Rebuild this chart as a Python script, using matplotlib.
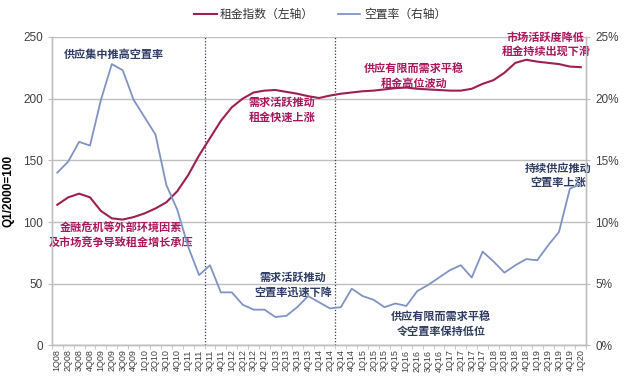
import matplotlib
matplotlib.use('Agg')
import matplotlib.pyplot as plt

plt.rcParams['font.family'] = ['Liberation Sans', 'Noto Sans CJK SC']

quarters = []
for yr in range(8, 20):
    for q in range(1, 5):
        quarters.append('%dQ%02d' % (q, yr))
quarters.append('1Q20')

rent_index = [114, 120, 123, 120, 109, 103, 102, 104, 107, 111,
              116, 125, 138, 154, 168, 182, 193, 200, 205, 206.5,
              207, 205.5, 204, 202, 200.5, 202.5, 204, 205, 206, 206.5,
              207.5, 208.5, 209, 208, 207.5, 207, 206.5, 206.5, 208, 212,
              215, 221, 229, 231.5, 230, 229, 228, 226, 225.5]

vacancy = [14.0, 14.9, 16.5, 16.2, 19.9, 22.8, 22.3, 19.9, 18.5, 17.1,
           13.0, 11.0, 8.0, 5.7, 6.5, 4.3, 4.3, 3.3, 2.9, 2.9,
           2.3, 2.4, 3.1, 4.0, 3.5, 3.0, 3.1, 4.6, 4.0, 3.7,
           3.1, 3.4, 3.2, 4.4, 4.9, 5.5, 6.1, 6.5, 5.5, 7.6,
           6.8, 5.9, 6.5, 7.0, 6.9, 8.1, 9.2, 12.7, 13.1]

phase_breaks = [13.5, 25.5]

red = '#9E1F50'
red_txt = '#A8175C'
blue = '#8093C3'
navy = '#2E3B63'
grid_c = '#BFBFBF'
tick_c = '#404040'

fig = plt.figure(figsize=(6.4, 3.89), dpi=100)
ax = fig.add_axes([0.081, 0.112, 0.835, 0.793])
ax2 = ax.twinx()

x = list(range(len(quarters)))
ax.plot(x, rent_index, color=red, linewidth=1.5, label='租金指数（左轴）', zorder=3)
ax2.plot(x, vacancy, color=blue, linewidth=1.3, label='空置率（右轴）', zorder=3)

ax.set_xlim(-0.5, len(quarters) - 0.5)
ax.set_ylim(0, 250)
ax2.set_ylim(0, 25)
ax.set_yticks(range(0, 251, 50))
ax2.set_yticks(range(0, 26, 5))
ax2.set_yticklabels(['%d%%' % v for v in range(0, 26, 5)])

ax.set_xticks(x)
ax.set_xticklabels(quarters, rotation=90, fontsize=6.5, color=tick_c)
ax.set_xticks([i - 0.5 for i in range(len(quarters) + 1)], minor=True)
ax.tick_params(axis='x', which='major', length=0, pad=3)
ax.tick_params(axis='x', which='minor', length=3, color=grid_c)
ax.tick_params(axis='y', labelsize=8.5, colors=tick_c, length=3)
ax.tick_params(axis='y', color=grid_c)
ax2.tick_params(axis='y', labelsize=8.5, labelcolor=tick_c, length=3, color=grid_c)

ax.grid(axis='y', color=grid_c, linewidth=1)
ax.set_axisbelow(True)
for a in (ax, ax2):
    a.spines['top'].set_visible(False)
    for s in ('left', 'right', 'bottom'):
        a.spines[s].set_color(grid_c)
        a.spines[s].set_linewidth(1)

for b in phase_breaks:
    ax.axvline(b, color=navy, linestyle=(0, (1, 1.5)), linewidth=0.9, zorder=2)

ax.set_ylabel('Q1/2000=100', fontsize=8.5, fontweight='bold', labelpad=6)

cjk = 'Noto Sans CJK SC'
notes = [
    (5.2, 236, '供应集中推高空置率', navy),
    (5.8, 88.7, '金融危机等外部环境因素\n及市场竞争导致租金增长承压', red_txt),
    (20.6, 190.8, '需求活跃推动\n租金快速上涨', red_txt),
    (21.6, 49, '需求活跃推动\n空置率迅速下降', navy),
    (32.7, 218.4, '供应有限而需求平稳\n租金高位波动', red_txt),
    (44.8, 244, '市场活跃度降低\n租金持续出现下滑', red_txt),
    (35.2, 17.4, '供应有限而需求平稳\n令空置率保持低位', navy),
    (45.9, 138, '持续供应推动\n空置率上涨', navy),
]
for nx, ny, txt, c in notes:
    ax.text(nx, ny, txt, color=c, fontsize=8, fontweight='bold', family=cjk,
            ha='center', va='center', linespacing=1.15, zorder=5)

h1, l1 = ax.get_legend_handles_labels()
h2, l2 = ax2.get_legend_handles_labels()
fig.legend(h1 + h2, l1 + l2, loc='center', bbox_to_anchor=(0.5, 0.962),
           ncol=2, frameon=False, fontsize=8.5, handlelength=1.9,
           handletextpad=0.3, columnspacing=2.0, labelcolor='#333333')

fig.savefig('out.png', dpi=100)
